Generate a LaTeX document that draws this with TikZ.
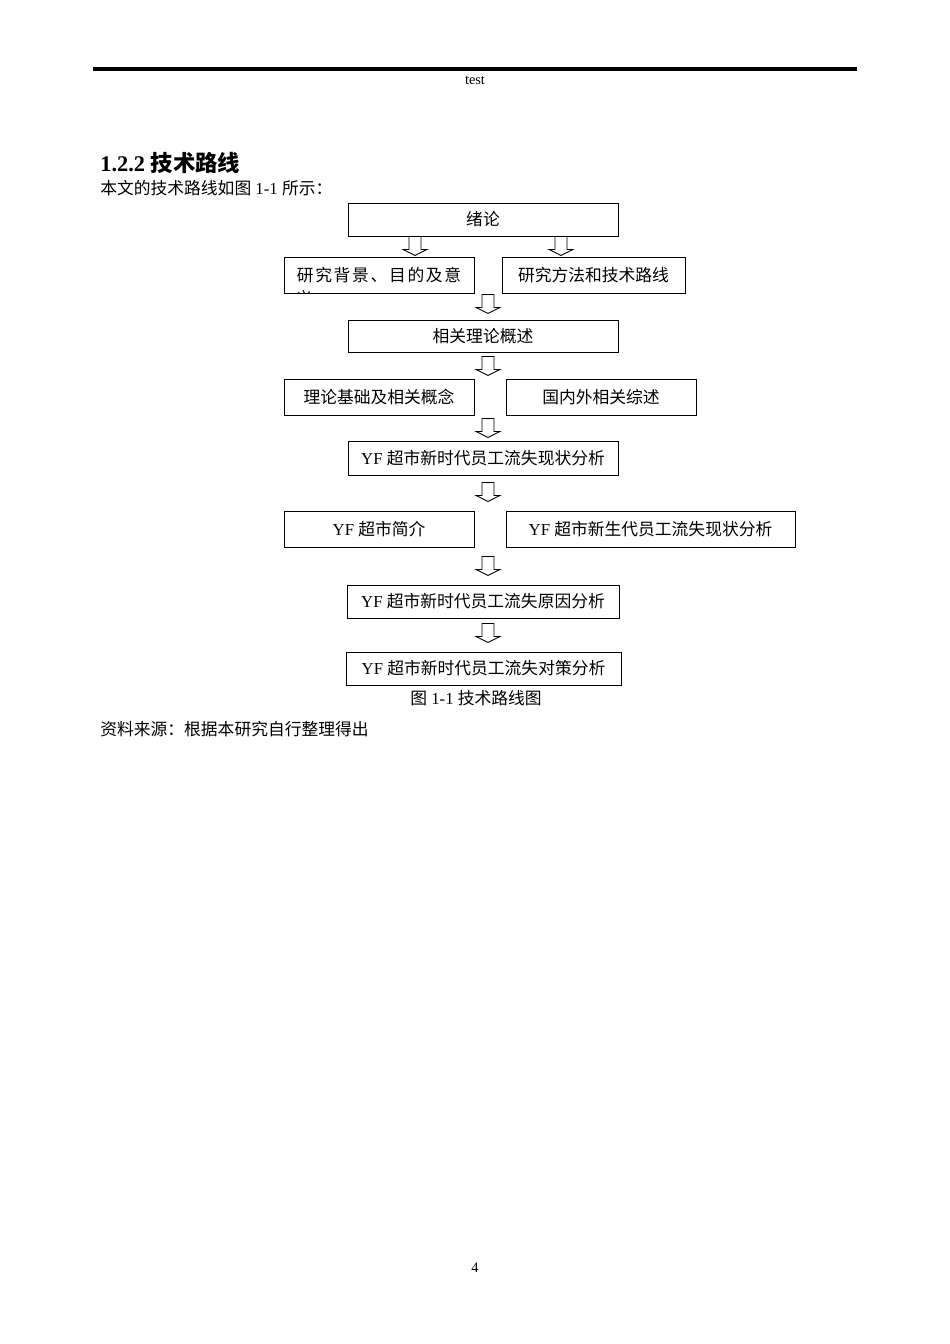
\documentclass[tikz,border=0pt]{standalone}
\usepackage{fontspec}
\setmainfont{Liberation Serif}
\newfontfamily\cjk{Noto Sans CJK SC}
\usetikzlibrary{calc}
\newcommand{\pxu}{0.626pt}

\begin{document}
\begin{tikzpicture}[x=0.626pt,y=-0.626pt,font=\fontsize{10.5pt}{12pt}\selectfont,
  box/.style={draw,line width=0.6pt,inner sep=0pt},
  plain/.style={inner sep=0pt,anchor=west},
  downarrow/.pic={\draw[line width=0.55pt,line join=miter] (-6,0) -- (-6,13) -- (-12,13) -- (0,19) -- (12,13) -- (6,13) -- (6,0) -- cycle;}]
\useasboundingbox (0,0) rectangle (950,1344);
\fill[white] (0,0) rectangle (950,1344);
% page header
\draw[line width=1.9pt] (93,69) -- (857,69);
\node[font=\fontsize{9pt}{10pt}\selectfont] (head) at (475,81) {test};
\node[plain,font=\fontsize{14pt}{16pt}\selectfont\bfseries] (title) at (100,163) {1.2.2 {\cjk 技术路线}};
\node[plain] (lead) at (100,188) {{\cjk 本文的技术路线如图} 1-1 {\cjk 所示：}};
% flow boxes
\node[box,minimum width=270*\pxu,minimum height=33*\pxu] (intro) at (483,219.5) {\cjk 绪论};
\node[box,minimum width=190*\pxu,minimum height=36*\pxu] (bg) at (379,275) {\cjk\addfontfeature{LetterSpace=10}研究背景、目的及意};
\begin{scope}
\clip (bg.south west) rectangle (bg.north east);
\node (bgcut) at (304,298.5) {\cjk 义};
\end{scope}
\node[box,minimum width=183*\pxu,minimum height=36*\pxu] (method) at (593.5,275) {\cjk 研究方法和技术路线};
\node[box,minimum width=270*\pxu,minimum height=32*\pxu] (overview) at (483,336) {\cjk 相关理论概述};
\node[box,minimum width=190*\pxu,minimum height=36*\pxu] (basis) at (379,397) {\cjk 理论基础及相关概念};
\node[box,minimum width=190*\pxu,minimum height=36*\pxu] (review) at (601,397) {\cjk 国内外相关综述};
\node[box,minimum width=270*\pxu,minimum height=34*\pxu] (status) at (483,458) {YF {\cjk 超市新时代员工流失现状分析}};
\node[box,minimum width=190*\pxu,minimum height=36*\pxu] (profile) at (379,529) {YF {\cjk 超市简介}};
\node[box,minimum width=289*\pxu,minimum height=36*\pxu] (newgen) at (650.5,529) {YF {\cjk 超市新生代员工流失现状分析}};
\node[box,minimum width=272*\pxu,minimum height=33*\pxu] (cause) at (483,601.5) {YF {\cjk 超市新时代员工流失原因分析}};
\node[box,minimum width=275*\pxu,minimum height=33*\pxu] (measure) at (483.5,668.5) {YF {\cjk 超市新时代员工流失对策分析}};
% hollow arrows
\pic at ($(intro.south)+(-68,0)$) {downarrow};
\pic at ($(intro.south)+(78,0)$) {downarrow};
\pic at ($(intro.south)+(5,58)$) {downarrow};
\pic at ($(overview.south)+(5,4)$) {downarrow};
\pic at ($(overview.south)+(5,66)$) {downarrow};
\pic at ($(status.south)+(5,7)$) {downarrow};
\pic at ($(status.south)+(5,81)$) {downarrow};
\pic at ($(cause.south)+(5,5)$) {downarrow};
% caption and source
\node (caption) at (476,698) {{\cjk 图} 1-1 {\cjk 技术路线图}};
\node[plain] (source) at (100,729) {\cjk 资料来源：根据本研究自行整理得出};
\node[font=\fontsize{9pt}{10pt}\selectfont] (pageno) at (475,1268) {4};
\end{tikzpicture}
\end{document}
